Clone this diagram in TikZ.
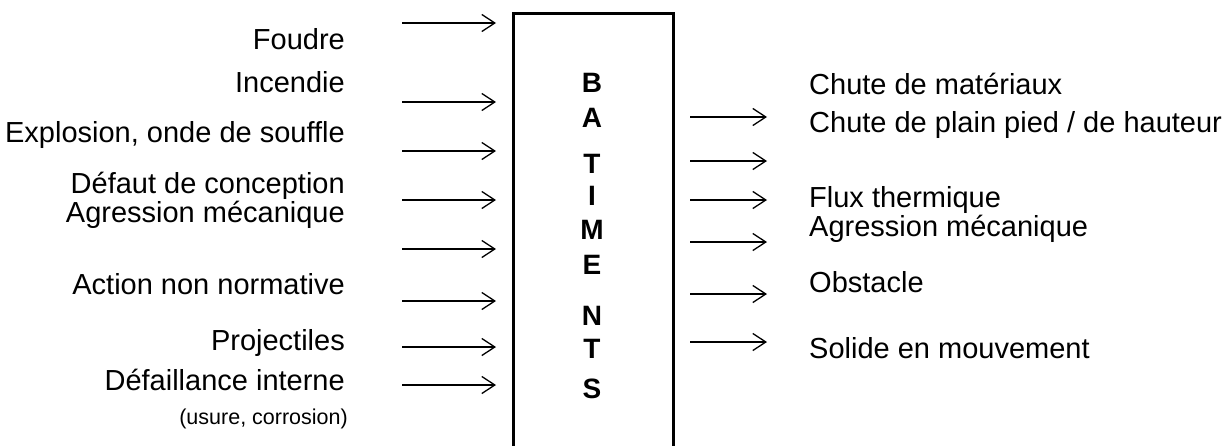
\documentclass[tikz,border=0pt]{standalone}
\usepackage{fontspec}
\setmainfont{Liberation Sans}
\usetikzlibrary{arrows.meta}

\tikzset{
  flow/.style={line width=1.3pt,-{Straight Barb[length=13pt,width=17pt]}},
  cause/.style={anchor=base east,inner sep=0pt,font=\fontsize{29}{34}\selectfont},
  effect/.style={anchor=base west,inner sep=0pt,font=\fontsize{29}{34}\selectfont},
  letter/.style={anchor=base,inner sep=0pt,font=\fontsize{28}{34}\selectfont\bfseries}
}

\begin{document}
\begin{tikzpicture}[x=1pt,y=-1pt]
\useasboundingbox (0,0) rectangle (1224,445);
% open box
\draw[line width=2.7pt] (513.3,450) -- (513.3,13.3) -- (673.3,13.3) -- (673.3,450);
% vertical word
\foreach \ch/\y [count=\i] in {B/92,A/127,T/173,I/205,M/239,E/274,N/325,T/358,S/398}
  \node[letter] (l\i) at (592,\y) {\ch};
% causes, left side
\node[cause] (foudre) at (345,49) {Foudre};
\node[cause] (incendie) at (345,92) {Incendie};
\node[cause] (explosion) at (345,142) {Explosion, onde de souffle};
\node[cause] (defaut) at (345,193) {Défaut de conception};
\node[cause] (agrG) at (345,222) {Agression mécanique};
\node[cause] (action) at (345,294) {Action non normative};
\node[cause] (proj) at (345,350) {Projectiles};
\node[cause] (defail) at (345,390) {Défaillance interne};
\node[anchor=base east,inner sep=0pt,font=\fontsize{21.5}{25}\selectfont] (usure) at (348,424) {(usure, corrosion)};
% effects, right side
\node[effect] (chuteM) at (809,94) {Chute de matériaux};
\node[effect] (chuteP) at (809,132) {Chute de plain pied / de hauteur};
\node[effect] (flux) at (809,207) {Flux thermique};
\node[effect] (agrD) at (809,236) {Agression mécanique};
\node[effect] (obst) at (809,292) {Obstacle};
\node[effect] (solide) at (809,358) {Solide en mouvement};
% incoming arrows
\foreach \y [count=\i] in {23,102,151,200,249,301,347,385} {
  \coordinate (ia\i) at (402,\y);
  \coordinate (ib\i) at (496,\y);
  \draw[flow] (ia\i) -- (ib\i);
}
% outgoing arrows
\foreach \y [count=\i] in {117,161,200,242,294,342} {
  \coordinate (oa\i) at (690,\y);
  \coordinate (ob\i) at (767,\y);
  \draw[flow] (oa\i) -- (ob\i);
}
\end{tikzpicture}
\end{document}
